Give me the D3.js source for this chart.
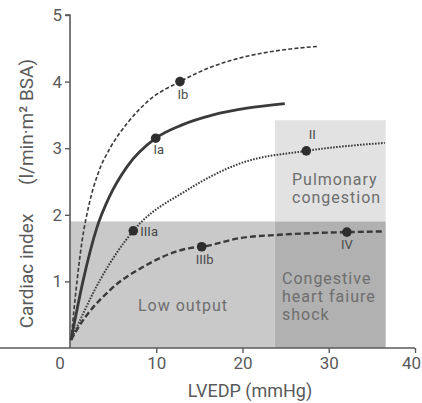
<!DOCTYPE html>
<html>
<head>
<meta charset="utf-8">
<script src="https://cdn.jsdelivr.net/npm/d3@7"></script>
<style>
  html, body { margin: 0; padding: 0; background: #fff; }
  svg { display: block; font-family: Roboto, "Open Sans", sans-serif; }
</style>
</head>
<body>
<svg id="chart" width="422" height="403"></svg>
<script>
// Ventricular function curves: cardiac index vs LVEDP, subsets Ia..IV

// Curve Ib (dashed, thin)
const ibX = [0.12, 0.81, 1.39, 2.2, 3.25, 4.64, 6.61, 9.16, 12.75, 16.6, 20.5, 24.35, 28.8];
const ibY = [0.12, 1.0, 1.60, 2.15, 2.62, 3.0, 3.37, 3.72, 4.0, 4.23, 4.38, 4.47, 4.53];
// Curve Ia (solid)
const iaX = [0.12, 1.5, 3.1, 4.6, 6.6, 9.94, 13.0, 16.6, 20.5, 24.9];
const iaY = [0.12, 1.0, 1.80, 2.28, 2.72, 3.15, 3.35, 3.50, 3.60, 3.67];
// Curve through IIIa and II (dotted)
const iiX = [0.12, 3.48, 7.34, 13.57, 19.7, 27.4, 36.5];
const iiY = [0.12, 1.02, 1.76, 2.37, 2.77, 2.96, 3.08];
// Curve through IIIb and IV (dashed, heavy)
const ivX = [0.12, 0.78, 4.64, 8.5, 13.9, 15.27, 19.7, 24.3, 32.1, 36.5];
const ivY = [0.12, 0.27, 0.87, 1.22, 1.5, 1.52, 1.65, 1.70, 1.74, 1.75];

// Marked subsets
const pointNames = ["Ib", "Ia", "II", "IIIa", "IIIb", "IV"];
const pointX = [12.75, 9.94, 27.4, 7.34, 15.27, 32.1];
const pointY = [4.0, 3.15, 2.96, 1.76, 1.52, 1.74];

// Haemodynamic zones
const zoneNames = ["Low output", "Pulmonary congestion", "Congestive heart faiure shock"];
const zoneX0 = [0, 23.75, 23.75];
const zoneX1 = [23.75, 36.6, 36.6];
const zoneY0 = [0, 1.9, 0];
const zoneY1 = [1.9, 3.42, 1.9];

// Axis ticks
const xTicks = [10, 20, 30, 40];
const yTicks = [1, 2, 3, 4, 5];

const svg = d3.select("#chart");
const x = d3.scaleLinear().domain([0, 40]).range([70, 415]);
const y = d3.scaleLinear().domain([0, 5]).range([348, 15]);

const ink = "#3a3a3a";
const axisInk = "#5a5a5a";
const labelInk = "#6e6e6e";

// zones
const zoneFill = ["#c9c9c9", "#e2e2e2", "#b1b1b1"];
svg.append("g").selectAll("rect")
  .data(zoneNames.map((n, i) => ({ n, i })))
  .join("rect")
  .attr("x", d => x(zoneX0[d.i]))
  .attr("y", d => y(zoneY1[d.i]))
  .attr("width", d => x(zoneX1[d.i]) - x(zoneX0[d.i]))
  .attr("height", d => y(zoneY0[d.i]) - y(zoneY1[d.i]))
  .attr("fill", d => zoneFill[d.i]);

// zone captions
const zoneText = svg.append("g")
  .attr("fill", labelInk)
  .attr("font-size", 16)
  .attr("letter-spacing", 1);
zoneText.append("text").attr("x", 138).attr("y", 311).text(zoneNames[0]);
const pc = zoneText.append("text").attr("x", 292).attr("y", 185);
pc.append("tspan").attr("x", 292).text("Pulmonary");
pc.append("tspan").attr("x", 292).attr("dy", 18).text("congestion");
const cs = zoneText.append("text").attr("x", 282).attr("y", 284);
cs.append("tspan").attr("x", 282).text("Congestive");
cs.append("tspan").attr("x", 282).attr("dy", 18).text("heart faiure");
cs.append("tspan").attr("x", 282).attr("dy", 18).text("shock");

// axes
const xAxis = svg.append("g")
  .attr("transform", `translate(0,${y(0)})`)
  .call(d3.axisBottom(x).tickValues(xTicks).tickFormat(d3.format("d")).tickSize(5).tickPadding(4));
const yAxis = svg.append("g")
  .attr("transform", `translate(${x(0)},0)`)
  .call(d3.axisLeft(y).tickValues(yTicks).tickFormat(d3.format("d")).tickSize(5).tickPadding(3));
[xAxis, yAxis].forEach(g => {
  g.select(".domain").attr("stroke", axisInk).attr("stroke-width", 1.6);
  g.selectAll(".tick line").attr("stroke", axisInk).attr("stroke-width", 1.4);
  g.selectAll(".tick text").attr("fill", axisInk)
    .attr("font-size", 17).attr("font-family", "Roboto, sans-serif");
});
// keep the last x label inside the frame
xAxis.selectAll(".tick text").filter(d => d === 40).attr("dx", -4);
yAxis.select(".domain").attr("d", `M-5,${y(5)}H0V${y(0)}`);
xAxis.select(".domain").attr("d", `M0,0H${x(40)}`);
svg.append("text").attr("x", x(0) - 10).attr("y", y(0) + 21)
  .attr("text-anchor", "middle").attr("fill", axisInk).attr("font-size", 17).text("0");

// axis titles
svg.append("text").attr("x", 250).attr("y", 397).attr("text-anchor", "middle")
  .attr("fill", axisInk).attr("font-size", 18).text("LVEDP (mmHg)");
svg.append("text").attr("transform", "translate(33,271) rotate(-90)")
  .attr("text-anchor", "middle").attr("fill", axisInk).attr("font-size", 19)
  .text("Cardiac index");
svg.append("text").attr("transform", "translate(33,122) rotate(-90)")
  .attr("text-anchor", "middle").attr("fill", axisInk).attr("font-size", 19)
  .text("(l/min·m² BSA)");

// curves
const line = d3.line().x(d => x(d[0])).y(d => y(d[1])).curve(d3.curveMonotoneX);
const curves = [
  { xs: ibX, ys: ibY, w: 1.6, dash: "4,2.2" },
  { xs: iaX, ys: iaY, w: 2.8, dash: null },
  { xs: iiX, ys: iiY, w: 2.0, dash: "1.6,1.4" },
  { xs: ivX, ys: ivY, w: 2.4, dash: "6,3" }
];
svg.append("g").selectAll("path")
  .data(curves)
  .join("path")
  .attr("d", c => line(c.xs.map((v, i) => [v, c.ys[i]])))
  .attr("fill", "none")
  .attr("stroke", ink)
  .attr("stroke-width", c => c.w)
  .attr("stroke-dasharray", c => c.dash);

// marked points and their labels
const labelOffset = { Ib: [3, 17], Ia: [3, 16], II: [6, -12], IIIa: [15, 5], IIIb: [3, 17], IV: [0, 17] };
const pts = svg.append("g");
pts.selectAll("circle")
  .data(pointNames)
  .join("circle")
  .attr("cx", (d, i) => x(pointX[i]))
  .attr("cy", (d, i) => y(pointY[i]))
  .attr("r", 4.8)
  .attr("fill", "#2e2e2e");
pts.selectAll("text")
  .data(pointNames)
  .join("text")
  .attr("x", (d, i) => x(pointX[i]) + labelOffset[d][0])
  .attr("y", (d, i) => y(pointY[i]) + labelOffset[d][1])
  .attr("text-anchor", d => d === "IIIa" ? "start" : "middle")
  .attr("fill", "#4a4a4a")
  .attr("font-size", 13)
  .attr("dx", d => d === "IIIa" ? -8 : 0)
  .text(d => d);
</script>
</body>
</html>
